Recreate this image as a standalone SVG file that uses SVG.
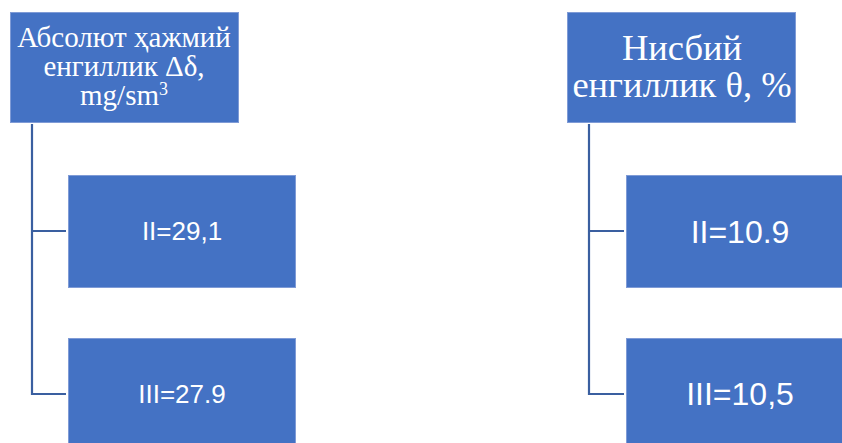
<svg xmlns="http://www.w3.org/2000/svg" width="842" height="443" viewBox="0 0 842 443">
<style>
.box{fill:#4472C4;stroke:#7F9BD6;stroke-width:1}
.hdr{font-family:"Liberation Serif","Times New Roman",serif;fill:#fff;text-anchor:middle}
.val{font-family:"Liberation Sans",Arial,sans-serif;fill:#fff;text-anchor:middle}
.con{fill:none;stroke:#3A5FA0;stroke-width:2.2}
</style>
<rect width="842" height="443" fill="#fff"/>
<g id="connectors">
<path class="con" d="M32,124 V394 H66 M32,231 H66"/>
<path class="con" d="M589,124 V394 H624 M589,231 H624"/>
</g>
<g id="n1">
<rect class="box" x="10.5" y="12.5" width="228" height="110"/>
<text class="hdr" font-size="29"><tspan x="124" y="47">Абсолют ҳажмий</tspan><tspan x="124" y="76">енгиллик Δδ,</tspan></text>
<text class="hdr" font-size="29" x="124" y="105">mg/sm<tspan font-size="18" dy="-10">3</tspan></text>
</g>
<g id="n2">
<rect class="box" x="68.5" y="175.5" width="227" height="112"/>
<text class="val" x="182" y="240" font-size="26">II=29,1</text>
</g>
<g id="n3">
<rect class="box" x="68.5" y="338.5" width="227" height="112"/>
<text class="val" x="182" y="403" font-size="26">III=27.9</text>
</g>
<g id="n4">
<rect class="box" x="567.5" y="12.5" width="228" height="110"/>
<text class="hdr" font-size="36.5"><tspan x="682" y="60">Нисбий</tspan><tspan x="682" y="97">енгиллик θ, %</tspan></text>
</g>
<g id="n5">
<rect class="box" x="626.5" y="175.5" width="228" height="112"/>
<text class="val" x="740" y="243" font-size="32">II=10.9</text>
</g>
<g id="n6">
<rect class="box" x="626.5" y="338.5" width="228" height="112"/>
<text class="val" x="740" y="405" font-size="32">III=10,5</text>
</g>
</svg>
